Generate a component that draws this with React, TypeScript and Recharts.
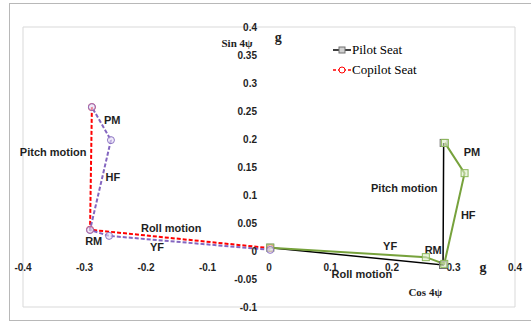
import {
  ComposedChart,
  Line,
  XAxis,
  YAxis,
  CartesianGrid,
  ReferenceDot,
  Legend,
} from "recharts";

const xTicks = [-0.4, -0.3, -0.2, -0.1, 0, 0.1, 0.2, 0.3, 0.4];
const yTicks = [-0.1, -0.05, 0, 0.05, 0.1, 0.15, 0.2, 0.25, 0.3, 0.35, 0.4];
const legendNames = ["Pilot Seat", "Copilot Seat"];

// pilot seat: roll then pitch
const pilotSeat = [
  { x: 0.002, y: 0.006 },
  { x: 0.283, y: -0.025 },
  { x: 0.284, y: 0.193 },
];
// pilot: YF, RM, HF, PM steps
const pilotSteps = [
  { x: 0.002, y: 0.006 },
  { x: 0.255, y: -0.011 },
  { x: 0.285, y: -0.023 },
  { x: 0.318, y: 0.139 },
  { x: 0.286, y: 0.193 },
];
// copilot seat: roll then pitch
const copilotSeat = [
  { x: 0.002, y: 0.005 },
  { x: -0.291, y: 0.038 },
  { x: -0.288, y: 0.257 },
];
// copilot: YF, RM, HF, PM steps
const copilotSteps = [
  { x: 0.002, y: 0.002 },
  { x: -0.26, y: 0.027 },
  { x: -0.291, y: 0.0375 },
  { x: -0.257, y: 0.198 },
  { x: -0.288, y: 0.257 },
];

const notes = [
  { text: "PM", x: -0.255, y: 0.234 },
  { text: "Pitch motion", x: -0.351, y: 0.177 },
  { text: "HF", x: -0.254, y: 0.132 },
  { text: "RM", x: -0.285, y: 0.018 },
  { text: "Roll motion", x: -0.159, y: 0.041 },
  { text: "YF", x: -0.182, y: 0.007 },
  { text: "PM", x: 0.33, y: 0.177 },
  { text: "Pitch motion", x: 0.22, y: 0.1125 },
  { text: "HF", x: 0.324, y: 0.064 },
  { text: "RM", x: 0.267, y: 0.002 },
  { text: "YF", x: 0.197, y: 0.009 },
  { text: "Roll motion", x: 0.151, y: -0.041 },
];

const axisNotes = [
  { text: "Sin 4\u03c8", x: -0.052, y: 0.371, size: 11 },
  { text: "g", x: 0.015, y: 0.382, size: 14 },
  { text: "g", x: 0.348, y: -0.029, size: 14 },
  { text: "Cos 4\u03c8", x: 0.254, y: -0.073, size: 11 },
];

const sans = '"Liberation Sans", Arial, sans-serif';
const serif = '"Liberation Serif", "Times New Roman", serif';

const PlotText = (props: any) => {
  const { viewBox, txt, dx = 0, dy = 0, anchor = "middle", family = sans, size = 11 } = props;
  if (!viewBox) return null;
  return (
    <text
      x={viewBox.x + dx}
      y={viewBox.y + dy}
      textAnchor={anchor}
      dominantBaseline="central"
      fontFamily={family}
      fontWeight="bold"
      fontSize={size}
      fill="#1f1f1f"
    >
      {txt}
    </text>
  );
};

const SquareDot = (props: any) => {
  const { cx, cy, stroke, fill } = props;
  if (cx == null || cy == null) return null;
  return <rect x={cx - 3.5} y={cy - 3.5} width={7} height={7} fill={fill} stroke={stroke} strokeWidth={1} />;
};

const CircleDot = (props: any) => {
  const { cx, cy, stroke, fill } = props;
  if (cx == null || cy == null) return null;
  return <circle cx={cx} cy={cy} r={3.5} fill={fill} stroke={stroke} strokeWidth={1} />;
};

const LegendBox = (props: any) => {
  const all = props.payload || [];
  const items = legendNames
    .map((name) => all.find((it: any) => it.value === name))
    .filter(Boolean);
  return (
    <div style={{ fontFamily: serif, fontSize: 13, color: "#000", lineHeight: "20px" }}>
      {items.map((it: any) => (
        <div key={it.value} style={{ display: "flex", alignItems: "center" }}>
          <svg width={18} height={10}>
            <line
              x1={0}
              y1={5}
              x2={18}
              y2={5}
              stroke={it.color}
              strokeWidth={1.5}
              strokeDasharray={it.value === "Copilot Seat" ? "3 2" : undefined}
            />
            {it.value === "Pilot Seat" ? (
              <rect x={6} y={2} width={6} height={6} fill="#d0d0d0" stroke="#707070" />
            ) : (
              <circle cx={9} cy={5} r={3} fill="#fff" stroke={it.color} />
            )}
          </svg>
          <span style={{ marginLeft: 1 }}>{it.value}</span>
        </div>
      ))}
    </div>
  );
};

const App = () => {
  return (
    <div style={{ position: "absolute", left: 0, top: 0, width: 531, height: 322, background: "#fff", overflow: "hidden" }}>
      <div
        style={{
          position: "absolute",
          left: 9,
          top: 3,
          width: 560,
          height: 316,
          border: "1px solid #b8b8b8",
        }}
      />
      <ComposedChart
        width={531}
        height={322}
        margin={{ top: 27, right: 16, bottom: 15, left: 23 }}
        style={{ position: "absolute", left: 0, top: 0 }}
      >
        <CartesianGrid stroke="#d9d9d9" strokeWidth={1} />
        <XAxis
          type="number"
          dataKey="x"
          domain={[-0.4, 0.4]}
          ticks={xTicks}
          allowDataOverflow
          tick={false}
          tickLine={false}
          axisLine={false}
          height={0}
        />
        <YAxis
          type="number"
          dataKey="y"
          domain={[-0.1, 0.4]}
          ticks={yTicks}
          allowDataOverflow
          tick={false}
          tickLine={false}
          axisLine={false}
          width={0}
        />
        <Legend
          content={<LegendBox />}
          layout="horizontal"
          align="center"
          verticalAlign="middle"
          wrapperStyle={{ left: 333, top: 40, width: 160 }}
        />
        <Line
          name="Pilot Seat"
          data={pilotSeat}
          dataKey="y"
          stroke="#000"
          strokeWidth={1.5}
          dot={<SquareDot stroke="#707070" fill="none" />}
          activeDot={false}
          legendType="line"
          isAnimationActive={false}
        />
        <Line
          name="Copilot Seat"
          data={copilotSeat}
          dataKey="y"
          stroke="#ff0000"
          strokeWidth={2}
          strokeDasharray="4 2"
          dot={<CircleDot stroke="#ff0000" fill="none" />}
          activeDot={false}
          legendType="line"
          isAnimationActive={false}
        />
        <Line
          name="Pilot steps"
          data={pilotSteps}
          dataKey="y"
          stroke="#77a23c"
          strokeWidth={2}
          dot={<SquareDot stroke="#8cb85a" fill="rgba(220,235,200,0.6)" />}
          activeDot={false}
          legendType="none"
          isAnimationActive={false}
        />
        <Line
          name="Copilot steps"
          data={copilotSteps}
          dataKey="y"
          stroke="#8466c0"
          strokeWidth={2}
          strokeDasharray="4 2"
          dot={<CircleDot stroke="#8e76c4" fill="rgba(230,222,245,0.6)" />}
          activeDot={false}
          legendType="none"
          isAnimationActive={false}
        />
        {yTicks.map((v) => (
          <ReferenceDot
            key={"y" + v}
            x={0}
            y={v}
            r={0}
            fill="none"
            stroke="none"
            label={<PlotText txt={String(v)} dx={-12} dy={0.5} anchor="end" size={10} />}
          />
        ))}
        {xTicks.map((v) => (
          <ReferenceDot
            key={"x" + v}
            x={v}
            y={0}
            r={0}
            fill="none"
            stroke="none"
            label={<PlotText txt={String(v)} dx={0} dy={16} size={10} />}
          />
        ))}
        {notes.map((n, i) => (
          <ReferenceDot
            key={"n" + i}
            x={n.x}
            y={n.y}
            r={0}
            fill="none"
            stroke="none"
            label={<PlotText txt={n.text} size={11} />}
          />
        ))}
        {axisNotes.map((n, i) => (
          <ReferenceDot
            key={"a" + i}
            x={n.x}
            y={n.y}
            r={0}
            fill="none"
            stroke="none"
            label={<PlotText txt={n.text} family={serif} size={n.size} />}
          />
        ))}
      </ComposedChart>
    </div>
  );
};

export default App;
